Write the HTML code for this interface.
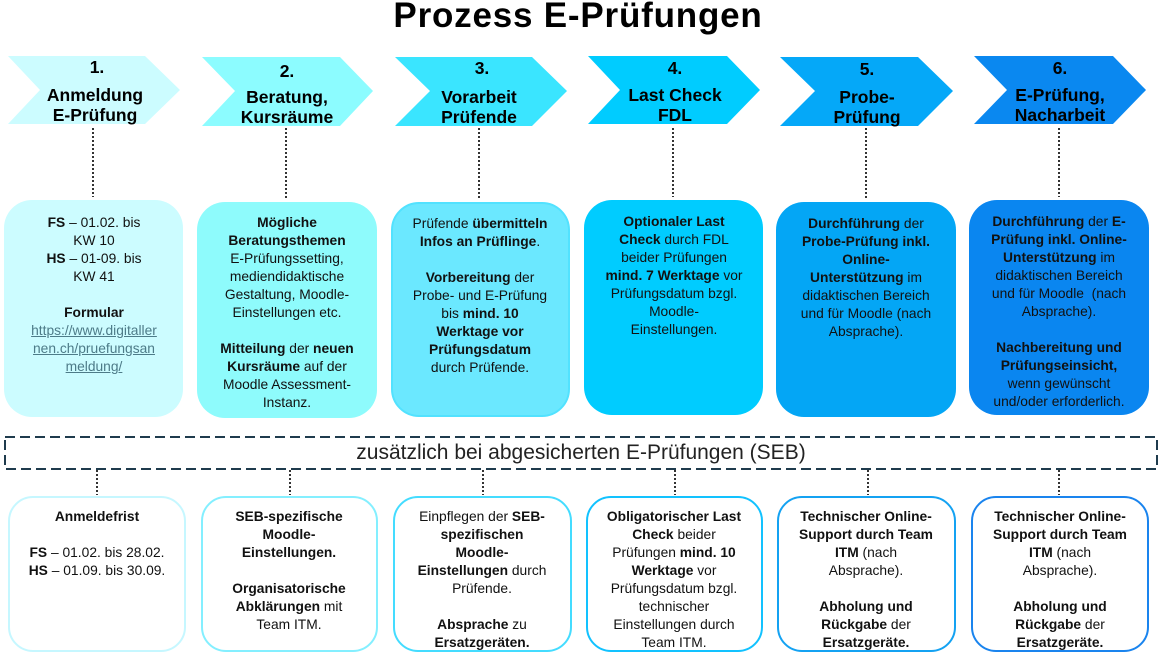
<!DOCTYPE html>
<html><head><meta charset="utf-8">
<style>
html,body{margin:0;padding:0;background:#fff;}
body{width:1170px;height:655px;position:relative;overflow:hidden;font-family:"Liberation Sans",sans-serif;color:#111;}
.title{position:absolute;left:0;width:1156px;top:-4px;line-height:40px;text-align:center;font-weight:bold;font-size:35px;letter-spacing:0.8px;color:#000;}
svg{position:absolute;left:0;top:0;}
.ch{position:absolute;width:180px;text-align:center;font-weight:bold;font-size:17.5px;line-height:20px;color:#000;white-space:nowrap;}
.box{position:absolute;box-sizing:border-box;border-radius:28px;}
.bb{position:absolute;box-sizing:border-box;border-radius:25px;border:2px solid;background:#fff;}
.t{position:absolute;width:200px;text-align:center;font-size:13.8px;line-height:18px;white-space:nowrap;color:#111;}
b{font-weight:bold;}
.lnk{color:#4d7b88;text-decoration:underline;}
.seb{position:absolute;left:5px;width:1152px;top:440px;line-height:26px;text-align:center;font-size:21px;color:#222;}
</style></head><body>
<div class="title">Prozess E-Prüfungen</div>

<svg width="1170" height="655" viewBox="0 0 1170 655">
<polygon points="8,56 145,56 180,90 145,124 8,124 40,90" fill="#ccfcff"/>
<polygon points="202,57 340,57 373,91 340,126 202,126 235,91" fill="#8cfcff"/>
<polygon points="395,57 532,57 567,91 532,126 395,126 430,91" fill="#3ae5ff"/>
<polygon points="588,56 727,56 760,90 727,124 588,124 620,90" fill="#00ccff"/>
<polygon points="780,57 918,57 953,91 918,126 780,126 815,91" fill="#05a8f8"/>
<polygon points="974,56 1113,56 1146,90 1113,124 974,124 1007,90" fill="#0a88f0"/>
<g stroke="#333" stroke-width="2" stroke-dasharray="2 2">
<line x1="93" y1="128" x2="93" y2="197"/>
<line x1="286" y1="128" x2="286" y2="199"/>
<line x1="479" y1="128" x2="479" y2="199"/>
<line x1="673" y1="128" x2="673" y2="197"/>
<line x1="866" y1="128" x2="866" y2="199"/>
<line x1="1059" y1="128" x2="1059" y2="197"/>
<line x1="97" y1="470" x2="97" y2="495"/>
<line x1="290" y1="470" x2="290" y2="495"/>
<line x1="483" y1="470" x2="483" y2="495"/>
<line x1="675" y1="470" x2="675" y2="495"/>
<line x1="868" y1="470" x2="868" y2="495"/>
<line x1="1059" y1="470" x2="1059" y2="495"/>
</g>
<rect x="5" y="437" width="1152" height="32" fill="none" stroke="#1f3b4d" stroke-width="2" stroke-dasharray="10 5"/>
</svg>

<!-- chevron labels -->
<div class="ch" style="left:7px;top:57px;">1.</div>
<div class="ch" style="left:5px;top:85px;">Anmeldung<br>E-Prüfung</div>
<div class="ch" style="left:197px;top:61px;">2.</div>
<div class="ch" style="left:197px;top:87px;">Beratung,<br>Kursräume</div>
<div class="ch" style="left:392px;top:58px;">3.</div>
<div class="ch" style="left:389px;top:87px;">Vorarbeit<br>Prüfende</div>
<div class="ch" style="left:585px;top:58px;">4.</div>
<div class="ch" style="left:585px;top:85px;">Last Check<br>FDL</div>
<div class="ch" style="left:777px;top:59px;">5.</div>
<div class="ch" style="left:777px;top:87px;">Probe-<br>Prüfung</div>
<div class="ch" style="left:970px;top:58px;">6.</div>
<div class="ch" style="left:970px;top:85px;">E-Prüfung,<br>Nacharbeit</div>

<!-- top boxes -->
<div class="box" style="left:4px;top:200px;width:179px;height:217px;background:#ccfcff;"></div>
<div class="box" style="left:197px;top:202px;width:180px;height:216px;background:#8efbfc;"></div>
<div class="box" style="left:391px;top:202px;width:179px;height:215px;background:#6be8ff;border:2px solid #52e2ff;"></div>
<div class="box" style="left:584px;top:200px;width:179px;height:215px;background:#00ccff;"></div>
<div class="box" style="left:776px;top:202px;width:180px;height:215px;background:#04a6f5;"></div>
<div class="box" style="left:969px;top:200px;width:180px;height:215px;background:#0a86f0;"></div>

<div class="t" style="left:-6px;top:214px;"><b>FS</b> – 01.02. bis<br>KW 10<br><b>HS</b> – 01-09. bis<br>KW 41<br><br><b>Formular</b><br><span class="lnk">https://www.digitaller</span><br><span class="lnk">nen.ch/pruefungsan</span><br><span class="lnk">meldung/</span></div>
<div class="t" style="left:187px;top:214px;"><b>Mögliche</b><br><b>Beratungsthemen</b><br>E-Prüfungssetting,<br>mediendidaktische<br>Gestaltung, Moodle-<br>Einstellungen etc.<br><br><b>Mitteilung</b> der <b>neuen</b><br><b>Kursräume</b> auf der<br>Moodle Assessment-<br>Instanz.</div>
<div class="t" style="left:380px;top:215px;">Prüfende <b>übermitteln</b><br><b>Infos an Prüflinge</b>.<br><br><b>Vorbereitung</b> der<br>Probe- und E-Prüfung<br>bis <b>mind. 10</b><br><b>Werktage vor</b><br><b>Prüfungsdatum</b><br>durch Prüfende.</div>
<div class="t" style="left:574px;top:213px;"><b>Optionaler Last</b><br><b>Check</b> durch FDL<br>beider Prüfungen<br><b>mind. 7 Werktage</b> vor<br>Prüfungsdatum bzgl.<br>Moodle-<br>Einstellungen.</div>
<div class="t" style="left:766px;top:215px;"><b>Durchführung</b> der<br><b>Probe-Prüfung inkl.</b><br><b>Online-</b><br><b>Unterstützung</b> im<br>didaktischen Bereich<br>und für Moodle (nach<br>Absprache).</div>
<div class="t" style="left:959px;top:213px;"><b>Durchführung</b> der <b>E-</b><br><b>Prüfung inkl. Online-</b><br><b>Unterstützung</b> im<br>didaktischen Bereich<br>und für Moodle&nbsp; (nach<br>Absprache).<br><br><b>Nachbereitung und</b><br><b>Prüfungseinsicht,</b><br>wenn gewünscht<br>und/oder erforderlich.</div>

<div class="seb">zusätzlich bei abgesicherten E-Prüfungen (SEB)</div>

<!-- bottom boxes -->
<div class="bb" style="left:8px;top:496px;width:178px;height:156px;border-color:#c6f7ff;"></div>
<div class="bb" style="left:201px;top:496px;width:177px;height:156px;border-color:#84efff;"></div>
<div class="bb" style="left:393px;top:496px;width:179px;height:156px;border-color:#44dcff;"></div>
<div class="bb" style="left:586px;top:496px;width:177px;height:156px;border-color:#12c2ff;"></div>
<div class="bb" style="left:777px;top:496px;width:179px;height:156px;border-color:#14a2f2;"></div>
<div class="bb" style="left:971px;top:496px;width:178px;height:156px;border-color:#1a84ee;"></div>

<div class="t" style="left:-3px;top:508px;"><b>Anmeldefrist</b><br><br><b>FS</b> – 01.02. bis 28.02.<br><b>HS</b> – 01.09. bis 30.09.</div>
<div class="t" style="left:189px;top:508px;"><b>SEB-spezifische</b><br><b>Moodle-</b><br><b>Einstellungen.</b><br><br><b>Organisatorische</b><br><b>Abklärungen</b> mit<br>Team ITM.</div>
<div class="t" style="left:382px;top:508px;">Einpflegen der <b>SEB-</b><br><b>spezifischen</b><br><b>Moodle-</b><br><b>Einstellungen</b> durch<br>Prüfende.<br><br><b>Absprache</b> zu<br><b>Ersatzgeräten.</b></div>
<div class="t" style="left:574px;top:508px;"><b>Obligatorischer Last</b><br><b>Check</b> beider<br>Prüfungen <b>mind. 10</b><br><b>Werktage</b> vor<br>Prüfungsdatum bzgl.<br>technischer<br>Einstellungen durch<br>Team ITM.</div>
<div class="t" style="left:766px;top:508px;"><b>Technischer Online-</b><br><b>Support durch Team</b><br><b>ITM</b> (nach<br>Absprache).<br><br><b>Abholung und</b><br><b>Rückgabe</b> der<br><b>Ersatzgeräte.</b></div>
<div class="t" style="left:960px;top:508px;"><b>Technischer Online-</b><br><b>Support durch Team</b><br><b>ITM</b> (nach<br>Absprache).<br><br><b>Abholung und</b><br><b>Rückgabe</b> der<br><b>Ersatzgeräte.</b></div>
</body></html>
